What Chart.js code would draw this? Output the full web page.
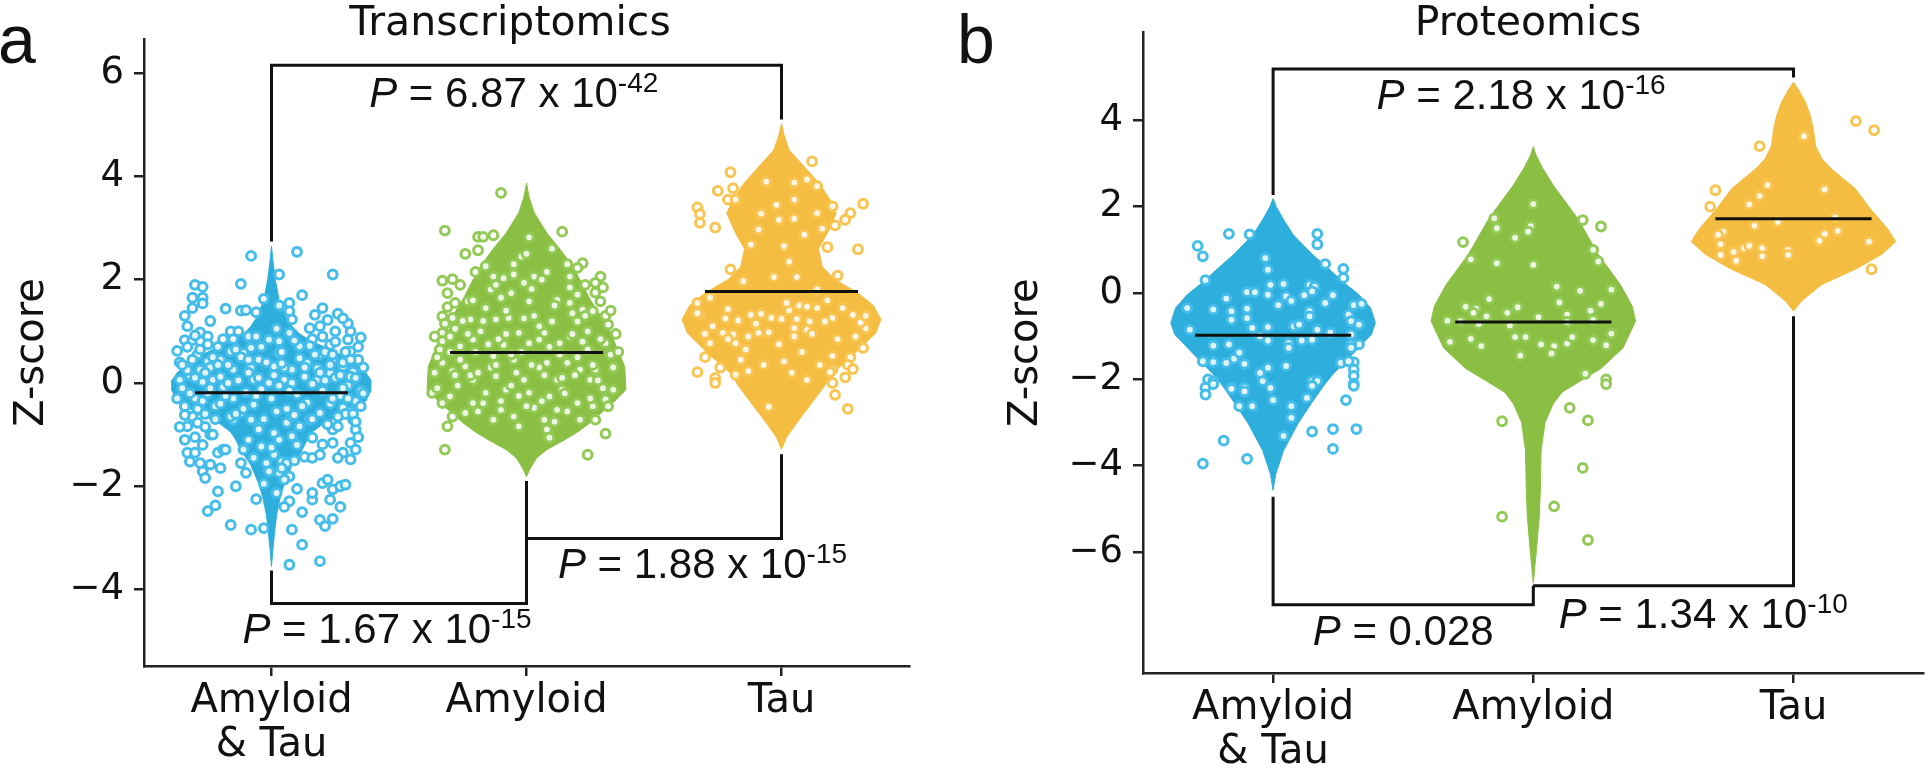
<!DOCTYPE html>
<html>
<head>
<meta charset="utf-8">
<script src="https://cdn.jsdelivr.net/npm/chart.js@4.4.1/dist/chart.umd.min.js"></script>
<style>
  html, body { margin: 0; padding: 0; background: #fff; }
  #wrap { position: relative; width: 1931px; height: 773px; }
  canvas { position: absolute; top: 0; }
</style>
</head>
<body>
<div id="wrap">
  <canvas id="panelA" width="960" height="773" style="left:0"></canvas>
  <canvas id="panelB" width="971" height="773" style="left:960px"></canvas>
</div>
<script>
// ---- shared categories / ticks ----
const categories = [['Amyloid', '& Tau'], 'Amyloid', 'Tau'];
const catTicks = [0, 1, 2];
const txTicks = [-4, -2, 0, 2, 4, 6];
const prTicks = [-6, -4, -2, 0, 2, 4];

// ---- Transcriptomics: violin outlines (z level, half width in category units) ----
const txATLevels = [-3.55,-3.2,-2.9,-2.55,-2.2,-1.95,-1.6,-1.3,-1.1,-0.95,-0.8,-0.65,-0.5,-0.35,-0.15,0.05,0.2,0.35,0.5,0.65,0.8,0.95,1.1,1.3,1.6,2.0,2.35,2.65];
const txATWidth  = [0,0.006,0.012,0.02,0.035,0.05,0.08,0.12,0.14,0.16,0.2,0.26,0.32,0.37,0.39,0.39,0.37,0.33,0.29,0.23,0.16,0.11,0.08,0.055,0.03,0.015,0.006,0];
const txAmLevels = [-1.81,-1.65,-1.45,-1.29,-1.1,-0.95,-0.77,-0.55,-0.38,-0.13,0.32,0.97,1.3,1.61,1.95,2.26,2.6,2.9,3.3,3.6,3.87];
const txAmWidth  = [0,0.015,0.04,0.08,0.15,0.2,0.25,0.3,0.34,0.39,0.385,0.33,0.29,0.25,0.215,0.18,0.13,0.08,0.03,0.01,0];
const txTauLevels = [-1.28,-1.05,-0.77,-0.38,-0.05,0.19,0.58,0.97,1.23,1.5,1.74,2.0,2.25,2.6,2.9,3.29,3.55,3.85,4.13,4.51,4.8,5.03];
const txTauWidth  = [0,0.02,0.06,0.12,0.17,0.2,0.29,0.37,0.39,0.36,0.3,0.21,0.16,0.145,0.18,0.215,0.19,0.15,0.1,0.03,0.01,0];
const txMedians = [-0.19, 0.59, 1.77];

// ---- Transcriptomics: samples [jitter, z] ----
const txATPts = [
  [-0.08,2.46],[0.10,2.54],[0.03,2.10],[0.24,2.10],[-0.12,1.92],[-0.30,1.90],[-0.27,1.86],[-0.31,1.65],[-0.27,1.65],[-0.27,1.54],
  [-0.18,1.44],[-0.12,1.40],[-0.10,1.41],[-0.03,1.63],[-0.06,1.37],[0.07,1.55],[0.07,1.39],[0.17,1.32],[0.26,1.34],[0.08,1.23],
  [-0.33,1.10],[-0.28,0.98],[-0.25,0.90],[-0.16,1.00],[-0.13,1.00],[-0.09,0.90],[0.19,1.10],[0.15,1.06],[0.25,1.00],[0.31,1.00],
  [0.30,0.84],[-0.34,0.83],[-0.31,0.83],[-0.28,0.81],[0.31,0.61],[0.23,0.74],[0.16,0.85],[0.20,0.90],
  [-0.01,0.84],[0.03,0.81],[0.07,0.97],[-0.06,0.90],[-0.16,0.61],[-0.11,0.58],[-0.05,0.45],[0.03,0.58],[0.11,0.71],[0.19,0.55],
  [-0.25,0.42],[-0.20,0.45],[0.24,0.45],[0.28,0.32],[-0.33,0.32],[-0.28,0.26],[-0.15,0.26],[-0.08,0.29],[0.01,0.32],[0.08,0.26],
  [0.14,0.39],[0.23,0.19],[-0.36,0.06],[-0.23,0.06],[-0.07,0.06],[0.05,0.06],[0.18,0.06],[0.32,0.06],
  [-0.33,-0.84],[-0.31,-0.65],[-0.24,-1.00],[-0.33,-1.35],[-0.30,-1.35],[-0.32,-1.52],[-0.28,-1.55],[-0.27,-1.71],[-0.26,-1.84],[-0.24,-1.58],
  [-0.21,-1.35],[-0.19,-1.29],[-0.18,-1.29],[-0.21,-2.10],[-0.25,-2.48],[-0.22,-2.37],[-0.10,-1.74],[-0.11,-1.29],[-0.06,-2.25],[-0.08,-2.84],
  [-0.03,-2.81],[0.07,-2.29],[0.08,-2.84],[0.07,-3.52],[0.12,-3.13],[0.19,-3.45],[0.07,-1.81],[0.13,-1.43],[0.16,-1.45],[0.19,-1.39],
  [0.20,-1.19],[0.24,-1.16],[0.31,-1.16],[0.33,-0.90],[0.33,-1.29],[0.31,-1.48],[0.32,-0.71],[0.16,-1.06],[0.20,-1.94],[0.22,-1.87],
  [0.24,-2.06],[0.27,-2.00],[0.29,-1.97],[0.16,-2.26],[0.16,-2.13],[0.23,-2.26],[0.19,-2.65],[0.21,-2.77],[0.24,-2.63],[0.31,-0.55],
  [0.28,-0.48],[0.24,-0.90],[0.26,-0.84],[-0.15,-0.71],[-0.16,-0.65],[-0.29,-0.77],[-0.23,-1.00],[-0.28,-0.52],
  [0.01,-0.97],[0.03,-1.10],[-0.04,-1.23],[0.01,-1.39],[-0.02,-1.55],[0.04,-1.52],[0.02,-2.13],[0.05,-1.87],[-0.01,-1.71],[0.03,-1.74],
  [0.08,-1.03],[0.06,-0.77],[0.11,-0.84],[-0.05,-0.84],[-0.08,-0.71],[-0.12,-0.58],[0.08,-0.65],[0.15,-0.71],[0.06,-1.55],[0.04,-1.65],
  [-0.35,-0.10],[-0.32,0.15],[-0.30,-0.30],[-0.27,0.02],[-0.25,-0.20],[-0.24,0.30],[-0.22,-0.45],[-0.20,0.12],[-0.19,-0.08],[-0.17,0.35],
  [-0.15,-0.30],[-0.13,0.05],[-0.12,0.50],[-0.10,-0.18],[-0.09,0.20],[-0.07,-0.42],[-0.05,0.10],[-0.04,-0.12],[-0.02,0.40],[0.00,-0.30],
  [0.01,0.15],[0.03,-0.05],[0.05,0.30],[0.06,-0.50],[0.08,0.00],[0.10,-0.22],[0.11,0.48],[0.13,0.12],[0.14,-0.38],[0.16,-0.02],
  [0.18,0.28],[0.20,-0.15],[0.21,0.60],[0.23,-0.40],[0.25,0.10],[0.27,-0.25],[0.28,0.40],[0.30,-0.05],[0.32,0.22],[0.33,-0.35],
  [-0.36,0.40],[-0.34,-0.45],[-0.29,0.55],[-0.26,-0.60],[-0.21,0.70],[-0.14,-0.60],[-0.08,0.68],[-0.03,-0.70],[0.04,0.60],[0.09,-0.62],
  [0.15,0.72],[0.19,-0.58],[0.24,0.55],[0.29,-0.60],[0.34,0.45],[-0.37,-0.30],[-0.33,0.25],[0.35,-0.15],[0.31,0.12],[-0.18,-0.25],
  [-0.37,0.62],[-0.35,0.35],[-0.34,-0.62],[-0.33,0.70],[-0.32,-0.20],[-0.31,0.45],[-0.30,0.10],[-0.29,-0.50],[-0.28,0.65],[-0.27,-0.35],
  [-0.26,0.20],[-0.25,0.75],[-0.24,-0.10],[-0.23,0.50],[-0.22,-0.70],[-0.21,0.35],[-0.20,-0.40],[-0.19,0.85],[-0.36,-0.85],[-0.30,0.92],
  [-0.26,-0.85],[-0.34,1.30],[-0.31,1.45],[-0.24,1.20],
  [0.36,0.30],[0.35,-0.45],[0.34,0.70],[0.33,0.10],[0.32,-0.60],[0.31,0.45],[0.30,-0.30],[0.29,0.60],[0.28,-0.10],[0.27,0.15],
  [0.26,-0.65],[0.25,0.80],[0.24,-0.30],[0.23,0.35],[0.22,-0.80],[0.21,0.05],[0.36,-0.20],[0.35,0.88],[0.33,-0.75],[0.30,1.15],
  [0.28,1.25],[0.22,1.22],[0.20,1.45],[0.12,1.70],[0.03,1.50],
  [-0.17,0.00],[-0.14,0.65],[-0.11,-0.50],[-0.09,0.45],[-0.06,-0.25],[-0.04,0.70],[-0.01,0.00],[0.02,-0.55],[0.04,0.38],[0.07,-0.15],
  [0.09,0.82],[0.12,-0.45],[0.13,0.30],[0.16,-0.70],[0.17,0.55],[0.19,0.20],[-0.15,0.85],[-0.05,-0.90],[0.02,1.05],[0.10,-1.20],
  [-0.09,-1.10],[0.00,-1.25],[-0.03,-1.95],[0.09,-1.50],[-0.07,-1.45],[0.05,-2.40],[-0.12,-1.55],
  [-0.34,-1.10],[-0.30,-1.05],[-0.27,-1.20],[0.34,-1.05],[0.28,-1.35],[0.26,-1.45],[-0.20,-1.65],[-0.14,-2.00],[0.12,-2.50],[-0.16,-2.75],
  [0.27,-2.40],[0.10,-2.05]
];
const txAmPts = [
  [-0.32,2.95],[-0.24,2.50],[-0.19,2.57],[-0.19,2.83],[-0.33,1.98],[-0.29,2.01],[-0.26,1.90],[-0.31,1.74],[-0.31,1.47],[-0.33,1.29],
  [-0.31,1.10],[-0.33,0.97],[-0.33,0.81],[-0.29,1.26],[-0.28,1.05],[-0.23,1.58],[-0.22,1.23],[-0.21,0.84],[-0.26,0.71],[-0.33,0.39],
  [-0.29,0.23],[-0.24,0.32],[-0.21,0.06],
  [-0.10,3.68],[-0.13,2.86],[-0.17,2.83],[0.14,2.93],[0.01,2.82],[-0.02,2.45],[0.16,2.30],[0.22,2.32],[0.20,2.23],[0.29,2.06],
  [0.27,1.94],[0.27,1.75],[0.29,1.58],[0.26,1.39],[0.31,1.30],[0.32,1.13],[0.31,0.77],[-0.16,2.26],[-0.13,2.06],[-0.09,2.03],
  [-0.05,2.10],[0.03,2.06],[0.06,2.00],[0.02,1.82],[-0.01,1.94],[0.17,2.06],[-0.14,1.81],[-0.10,1.65],[-0.06,1.74],[0.01,1.58],
  [0.12,1.61],[0.17,1.55],[0.20,1.71],[0.22,1.42],[-0.16,1.45],[-0.12,1.23],[-0.07,1.26],[-0.03,0.97],[0.01,0.77],[0.05,0.84],
  [0.10,1.19],[0.07,0.97],[0.13,0.77],[0.17,0.90],[0.20,1.19],[0.24,0.65],[-0.09,0.74],[-0.13,0.52],[-0.05,0.45],[0.08,0.39],
  [0.16,0.39],[0.21,0.26],[0.27,0.26],[0.25,0.06],[0.12,0.06],[-0.01,0.06],[-0.12,0.13],
  [0.31,-0.98],[0.24,-1.39],[-0.16,-0.19],[-0.08,-0.13],[0.01,-0.19],[0.09,-0.26],[0.14,-0.13],[0.20,-0.39],[0.26,-0.45],[0.31,-0.32],
  [0.34,-0.13],[-0.13,-0.71],[-0.05,-0.65],[0.03,-0.48],[0.07,-0.71],[0.08,-0.90],[0.09,-1.06],[0.12,-0.52],[0.21,-0.71],[0.27,-0.71],
  [-0.17,-0.39],[-0.10,-0.52],[-0.03,-0.84],[-0.32,-1.29],[-0.31,-0.84],[-0.29,-0.65],[-0.24,-0.58],[-0.33,-0.39],[-0.37,-0.19],[-0.30,-0.26],
  [-0.21,-0.39],
  [-0.35,0.50],[-0.30,0.90],[-0.25,1.20],[-0.20,0.60],[-0.18,1.00],[-0.14,0.30],[-0.11,0.85],[-0.08,1.40],[-0.04,0.20],[-0.02,0.60],
  [0.03,1.30],[0.05,0.30],[0.09,0.70],[0.11,1.50],[0.14,0.10],[0.18,0.95],[0.20,0.50],[0.23,1.30],[0.26,0.35],[0.29,0.85],
  [0.33,0.55],[-0.36,0.20],[-0.27,-0.05],[-0.22,0.15],[-0.06,-0.05],[0.06,-0.35],[0.16,-0.55],[0.30,-0.10],[-0.12,1.90],[0.08,2.15],
  [0.17,1.85],[-0.28,1.55],[0.35,0.95],[-0.19,-0.55],[0.00,-0.45],
  [0.36,0.60],[0.34,0.30],[0.33,1.40],[0.32,-0.45],[0.30,1.85],[0.28,0.05],[0.25,-0.30],[0.24,1.00],[0.22,0.80],[0.19,0.15],
  [0.18,1.35],[0.15,-0.20],[0.13,0.55],[0.11,-0.75],[0.07,0.15],[0.05,1.10],[0.02,0.35],[-0.01,1.25],[-0.03,-0.25],[-0.06,0.55],
  [-0.08,0.95],[-0.10,-0.35],[-0.12,0.35],[-0.15,0.75],[-0.17,1.20],[-0.19,0.20],[-0.21,1.60],[-0.23,0.95],[-0.26,0.45],[-0.28,0.15],
  [-0.30,0.60],[-0.32,1.15],[-0.34,0.65],[-0.35,-0.10],[-0.36,0.90],[0.00,2.50],[-0.05,2.30],[0.10,2.60],[0.23,1.90],[-0.20,2.15]
];
const txTauPts = [
  [0.12,4.29],[-0.20,4.08],[-0.25,3.72],[-0.19,3.77],[-0.21,3.55],[-0.18,3.55],[-0.33,3.40],[-0.32,3.27],[-0.32,3.10],[-0.26,3.01],
  [0.32,3.47],[0.27,3.29],[0.25,3.16],[0.21,3.05],[0.20,3.42],[0.30,2.59],[0.18,2.63],[0.22,2.08],[-0.32,1.32],[-0.33,1.55],
  [0.32,0.68],[0.31,1.19],[0.33,1.06],[-0.33,0.21],[-0.26,0.10],[-0.18,0.16],[0.27,0.50],[0.26,0.35],[0.28,0.27],[0.20,0.26],
  [0.19,0.21],[0.25,0.11],
  [-0.06,3.90],[0.05,3.88],[0.10,3.94],[0.14,3.81],[-0.02,3.45],[0.05,3.55],[-0.08,3.28],[-0.01,3.16],[0.05,3.18],[0.14,3.29],
  [-0.09,2.97],[0.09,2.87],[0.16,2.99],[-0.12,2.68],[0.01,2.65],[0.03,2.35],[-0.15,1.97],[-0.03,2.05],[0.06,2.05],[0.14,1.81],
  [-0.28,1.65],[-0.33,1.35],[-0.21,1.43],[-0.17,1.21],[-0.12,1.32],[-0.08,1.34],[-0.04,1.26],[0.00,1.24],[0.03,1.41],[0.07,1.50],
  [0.10,1.48],[0.14,1.45],[0.20,1.26],[0.28,1.32],[0.31,1.17],[0.06,1.24],[0.11,1.19],[0.17,1.19],[-0.23,0.97],[-0.19,0.94],
  [-0.13,0.90],[-0.09,0.97],[-0.05,0.98],[0.05,1.06],[0.10,1.03],[-0.28,0.77],[-0.18,0.77],[-0.21,0.85],[0.05,0.90],[-0.16,0.45],
  [-0.13,0.23],[0.01,0.42],[0.10,0.06],[0.20,0.52],
  [-0.05,-0.46],[0.21,-0.23],[0.26,-0.50],[-0.26,0.00],[0.20,0.00],
  [-0.30,0.50],[-0.27,1.10],[-0.24,0.30],[-0.22,1.25],[-0.14,0.65],[-0.10,1.15],[-0.07,0.35],[-0.01,0.75],[0.02,1.55],[0.04,0.20],
  [0.08,0.60],[0.12,0.95],[0.15,0.35],[0.18,1.60],[0.22,0.85],[0.24,1.45],[0.29,0.90],[0.33,1.30],[-0.30,0.95],[-0.20,2.20]
];

// ---- Proteomics: violin outlines ----
const prATLevels = [-4.57,-4.2,-3.65,-3.03,-2.57,-2.1,-1.88,-1.42,-0.96,-0.69,-0.35,-0.04,0.2,0.58,0.9,1.35,1.7,2.0,2.19];
const prATWidth  = [0,0.01,0.04,0.095,0.145,0.2,0.23,0.305,0.378,0.393,0.375,0.33,0.28,0.21,0.15,0.077,0.04,0.012,0];
const prAmLevels = [-6.72,-5.95,-5.18,-4.57,-3.65,-3.0,-2.57,-2.3,-2.04,-1.75,-1.27,-0.65,-0.3,0.19,0.89,1.73,2.5,2.9,3.2,3.39];
const prAmWidth  = [0,0.012,0.023,0.027,0.03,0.045,0.076,0.11,0.18,0.26,0.345,0.393,0.38,0.335,0.25,0.17,0.076,0.035,0.01,0];
const prTauLevels = [-0.42,-0.19,0.19,0.58,0.9,1.19,1.5,1.96,2.42,2.88,3.1,3.4,3.81,4.1,4.42,4.7,4.88];
const prTauWidth  = [0,0.03,0.107,0.248,0.34,0.393,0.36,0.294,0.237,0.145,0.11,0.085,0.076,0.065,0.046,0.02,0];
const prMedians = [-0.98, -0.67, 1.72];

// ---- Proteomics: samples [jitter, z] ----
const prATPts = [
  [-0.29,1.09],[-0.27,0.85],[-0.17,1.37],[-0.09,1.36],[0.17,1.37],[0.17,1.13],[0.20,0.67],[0.27,0.56],[0.27,0.35],[-0.26,0.30],
  [0.31,-0.28],[0.34,-0.25],[0.33,-1.19],[0.31,-1.60],[0.31,-1.77],[0.31,-1.92],[0.31,-2.10],[-0.27,-1.58],[-0.25,-2.00],[-0.23,-2.04],
  [-0.03,0.81],[-0.02,0.54],[-0.01,0.19],[0.04,0.21],[-0.10,0.02],[-0.07,0.02],[-0.02,-0.04],[0.05,-0.08],[0.07,-0.18],[0.12,-0.05],
  [0.14,0.19],[0.16,0.15],[0.15,0.04],[0.23,-0.05],[0.20,-0.23],[0.02,-0.28],[-0.18,-0.13],[-0.16,-0.42],[-0.16,-0.62],[-0.10,-0.36],
  [-0.10,-0.58],[-0.23,-0.38],[-0.33,-0.35],[-0.32,-0.85],[-0.08,-0.81],[-0.02,-0.79],[0.08,-0.77],[0.10,-0.73],[0.17,-0.85],[0.14,-0.42],
  [0.14,-0.54],[0.29,-0.50],[0.30,-0.65],[0.33,-0.73],[0.30,-0.96],[0.30,-1.19],[0.22,-0.92],[0.11,-1.10],[0.15,-1.08],[0.06,-1.16],
  [-0.23,-1.22],[-0.17,-1.19],[-0.02,-1.10],[-0.05,-1.00],[0.26,-1.62],[0.29,-1.58],[0.30,-1.27],[-0.15,-1.52],[-0.13,-1.38],[-0.23,-1.60],
  [-0.18,-1.62],[-0.11,-1.64],[-0.02,-1.73],[-0.05,-1.85],[-0.04,-2.04],[0.05,-1.69],[0.15,-2.04],[0.17,-2.04],[0.06,-1.27],[-0.26,-2.19],
  [-0.16,-2.19],[-0.11,-2.19],
  [-0.26,-2.35],[0.28,-2.48],[0.31,-2.15],[-0.19,-3.42],[-0.10,-3.84],[-0.27,-3.95],[0.15,-3.21],[0.23,-3.15],[0.32,-3.15],[0.23,-3.61],
  [-0.23,-2.11],[-0.16,-2.22],[-0.11,-2.28],[-0.01,-2.20],[0.00,-2.48],[0.07,-2.62],[0.07,-2.89],[0.04,-3.31],[-0.08,-2.62],[-0.13,-2.62],
  [0.13,-2.43],[0.15,-2.15]
];
const prAmPts = [
  [-0.15,1.73],[-0.27,1.18],[-0.24,0.78],[0.19,1.69],[0.26,1.54],[0.23,1.00],[0.25,0.73],[0.30,0.08],[0.20,-1.87],[0.28,-2.00],
  [0.00,2.06],[-0.14,1.50],[-0.01,1.55],[-0.02,1.42],[-0.07,1.28],[-0.14,0.69],[0.00,0.65],[0.09,0.15],[0.18,0.05],[-0.17,-0.14],
  [-0.26,-0.32],[-0.22,-0.36],[-0.23,-0.46],[-0.18,-0.54],[-0.10,-0.46],[-0.06,-0.33],[0.10,-0.22],[0.13,-0.50],[0.02,-0.56],[0.26,-0.25],
  [0.22,-0.41],[0.23,-0.62],[-0.33,-0.64],[-0.28,-0.65],[-0.21,-0.72],[-0.09,-0.75],[0.13,-0.67],[0.30,-0.94],[-0.32,-1.13],[-0.24,-1.06],
  [-0.20,-1.23],[-0.07,-1.02],[-0.03,-1.02],[0.03,-1.19],[0.08,-1.23],[0.13,-1.17],[0.15,-1.02],[0.23,-1.09],[0.28,-1.21],[-0.05,-1.45],
  [0.07,-1.40],
  [-0.12,-2.97],[0.14,-2.66],[0.21,-2.95],[0.19,-4.05],[0.08,-4.94],[-0.12,-5.18],[0.21,-5.72],[0.28,-2.11]
];
const prTauPts = [
  [-0.13,3.40],[0.24,3.98],[0.31,3.77],[-0.30,2.38],[-0.32,2.00],[0.30,0.55],
  [0.04,3.63],[-0.10,2.50],[-0.13,2.25],[-0.17,2.05],[0.12,2.40],[0.16,1.75],[-0.06,1.65],[-0.15,1.56],[-0.27,1.42],[-0.29,1.35],
  [-0.28,1.13],[-0.28,0.88],[-0.23,0.95],[-0.22,0.75],[-0.19,1.04],[-0.17,1.09],[-0.12,1.04],[-0.12,0.85],[-0.02,1.00],[-0.02,0.88],
  [0.10,1.21],[0.12,1.37],[0.17,1.44],[0.29,1.19]
];

// ---- significance brackets: [leftCat, leftEnd, barLevel, rightCat, rightEnd] ----
const txBrackets = [[0, 2.74, 6.15, 2, 5.10], [0, -3.63, -4.27, 1, -1.90], [1, -1.90, -3.01, 2, -1.38]];
const prBrackets = [[0, 2.27, 5.19, 2, 4.99], [0, -4.72, -7.22, 1, -6.78], [1, -6.78, -6.78, 2, -0.54]];
const txPValues = [['6.87', '-42'], ['1.67', '-15'], ['1.88', '-15']];
const prPValues = [['2.18', '-16'], ['0.028', ''], ['1.34', '-10']];

const FILLS = ['#2daedc', '#8bbf43', '#f5bc42'];
const RINGS = ['#45bdea', '#92ca55', '#f8c452'];

function violinData(c, levels, widths) {
    const right = levels.map((y, i) => ({ x: c + widths[i], y }));
    const left = levels.map((y, i) => ({ x: c - widths[i], y })).reverse();
    return right.concat(left);
}

function buildDatasets(levels, widths, pts, medians, brackets) {
    const ds = [];
    levels.forEach((lv, c) => {
        ds.push({
            data: violinData(c, lv, widths[c]),
            showLine: true, fill: 'shape', tension: 0,
            backgroundColor: FILLS[c], borderColor: FILLS[c], borderWidth: 1,
            pointRadius: 0, order: 3,
        });
    });
    pts.forEach((set, c) => {
        ds.push({
            data: set.map(p => ({ x: c + p[0], y: p[1] })),
            showLine: false,
            pointRadius: 4.4, pointBorderWidth: 3,
            pointBackgroundColor: 'rgba(255,255,255,0.85)',
            pointBorderColor: RINGS[c], order: 2,
        });
    });
    medians.forEach((m, c) => {
        ds.push({
            data: [{ x: c - 0.3, y: m }, { x: c + 0.3, y: m }],
            showLine: true, borderColor: '#111', borderWidth: 3,
            pointRadius: 0, order: 1,
        });
    });
    brackets.forEach(b => {
        ds.push({
            data: [{ x: b[0], y: b[1] }, { x: b[0], y: b[2] }, { x: b[3], y: b[2] }, { x: b[3], y: b[4] }],
            showLine: true, borderColor: '#111', borderWidth: 3,
            pointRadius: 0, order: 0,
        });
    });
    return ds;
}

function drawPText(ctx, cx, base, main, sup) {
    const fi = 'italic 42px "Liberation Sans", Arial, sans-serif';
    const fm = '42px "Liberation Sans", Arial, sans-serif';
    const fs = '28px "Liberation Sans", Arial, sans-serif';
    const rest = ' = ' + main + (sup ? ' x 10' : '');
    ctx.font = fi; const w1 = ctx.measureText('P').width;
    ctx.font = fm; const w2 = ctx.measureText(rest).width;
    ctx.font = fs; const w3 = sup ? ctx.measureText(sup).width : 0;
    let x = cx - (w1 + w2 + w3) / 2;
    ctx.textBaseline = 'alphabetic'; ctx.textAlign = 'left'; ctx.fillStyle = '#111';
    ctx.font = fi; ctx.fillText('P', x, base); x += w1;
    ctx.font = fm; ctx.fillText(rest, x, base); x += w2;
    if (sup) { ctx.font = fs; ctx.fillText(sup, x, base - 15); }
}

// text overlay: panel letter, title, axis title and P values
const overlay = {
    id: 'overlay',
    afterDraw(chart, args, o) {
        const ctx = chart.ctx;
        const xs = chart.scales.x, ys = chart.scales.y;
        ctx.save();
        ctx.fillStyle = '#111';
        ctx.textAlign = 'left'; ctx.textBaseline = 'alphabetic';
        ctx.font = '68px "Liberation Sans", Arial, sans-serif';
        ctx.fillText(o.letter, o.letterX, 63);
        ctx.textAlign = 'center';
        ctx.font = '41px "DejaVu Sans", sans-serif';
        ctx.fillText(o.title, o.titleX, 35);
        ctx.save();
        ctx.translate(o.zX, (chart.chartArea.top + chart.chartArea.bottom) / 2);
        ctx.rotate(-Math.PI / 2);
        ctx.textBaseline = 'middle';
        ctx.font = '40px "DejaVu Sans", sans-serif';
        ctx.fillText('Z-score', 0, 0);
        ctx.restore();
        o.pPos.forEach((p, i) => {
            drawPText(ctx, xs.getPixelForValue(p[0]), ys.getPixelForValue(p[1]), o.pValues[i][0], o.pValues[i][1]);
        });
        ctx.restore();
    }
};

function makeChart(id, opts) {
    const axisColor = '#222';
    return new Chart(document.getElementById(id), {
        type: 'scatter',
        data: { datasets: buildDatasets(opts.levels, opts.widths, opts.pts, opts.medians, opts.brackets) },
        options: {
            responsive: false,
            animation: false,
            devicePixelRatio: 1,
            layout: { padding: { left: 0, right: opts.padRight, top: opts.padTop, bottom: 0 } },
            plugins: {
                legend: { display: false },
                tooltip: { enabled: false },
                overlay: opts.overlay,
            },
            scales: {
                x: {
                    type: 'linear', min: -0.5, max: 2.5,
                    afterBuildTicks: s => { s.ticks = catTicks.map(v => ({ value: v })); },
                    afterFit: s => { s.height = opts.xHeight; },
                    ticks: {
                        autoSkip: false, maxRotation: 0, padding: 4, color: '#111',
                        font: { family: '"DejaVu Sans", sans-serif', size: 40, lineHeight: 1.1 },
                        callback: v => categories[v],
                    },
                    grid: { drawOnChartArea: false, tickLength: 10, color: axisColor, lineWidth: 2.5 },
                    border: { color: axisColor, width: 2.5 },
                },
                y: {
                    type: 'linear', min: opts.yMin, max: opts.yMax,
                    afterBuildTicks: s => { s.ticks = opts.yTicks.map(v => ({ value: v })); },
                    afterFit: s => { s.width = opts.yWidth; },
                    ticks: {
                        padding: 10, color: '#111',
                        font: { family: '"DejaVu Sans", sans-serif', size: 37 },
                        callback: v => (v < 0 ? '\u2212' + Math.abs(v) : String(v)),
                    },
                    grid: { drawOnChartArea: false, tickLength: 10, color: axisColor, lineWidth: 2.5 },
                    border: { color: axisColor, width: 2.5 },
                },
            },
        },
        plugins: [overlay],
    });
}

makeChart('panelA', {
    levels: [txATLevels, txAmLevels, txTauLevels],
    widths: [txATWidth, txAmWidth, txTauWidth],
    pts: [txATPts, txAmPts, txTauPts],
    medians: txMedians, brackets: txBrackets,
    yMin: -5.48, yMax: 6.66, yTicks: txTicks,
    yWidth: 144, xHeight: 107, padRight: 51, padTop: 39,
    overlay: {
        letter: 'a', letterX: -2, title: 'Transcriptomics', titleX: 510, zX: 33,
        pValues: txPValues, pPos: [[0.95, 5.35], [0.453, -5.03], [1.69, -3.77]],
    },
});

makeChart('panelB', {
    levels: [prATLevels, prAmLevels, prTauLevels],
    widths: [prATWidth, prAmWidth, prTauWidth],
    pts: [prATPts, prAmPts, prTauPts],
    medians: prMedians, brackets: prBrackets,
    yMin: -8.8, yMax: 6.04, yTicks: prTicks,
    yWidth: 183, xHeight: 100, padRight: 2, padTop: 30,
    overlay: {
        letter: 'b', letterX: -3, title: 'Proteomics', titleX: 568, zX: 67,
        pValues: prPValues, pPos: [[0.953, 4.26], [0.50, -8.15], [1.653, -7.76]],
    },
});
</script>
</body>
</html>
